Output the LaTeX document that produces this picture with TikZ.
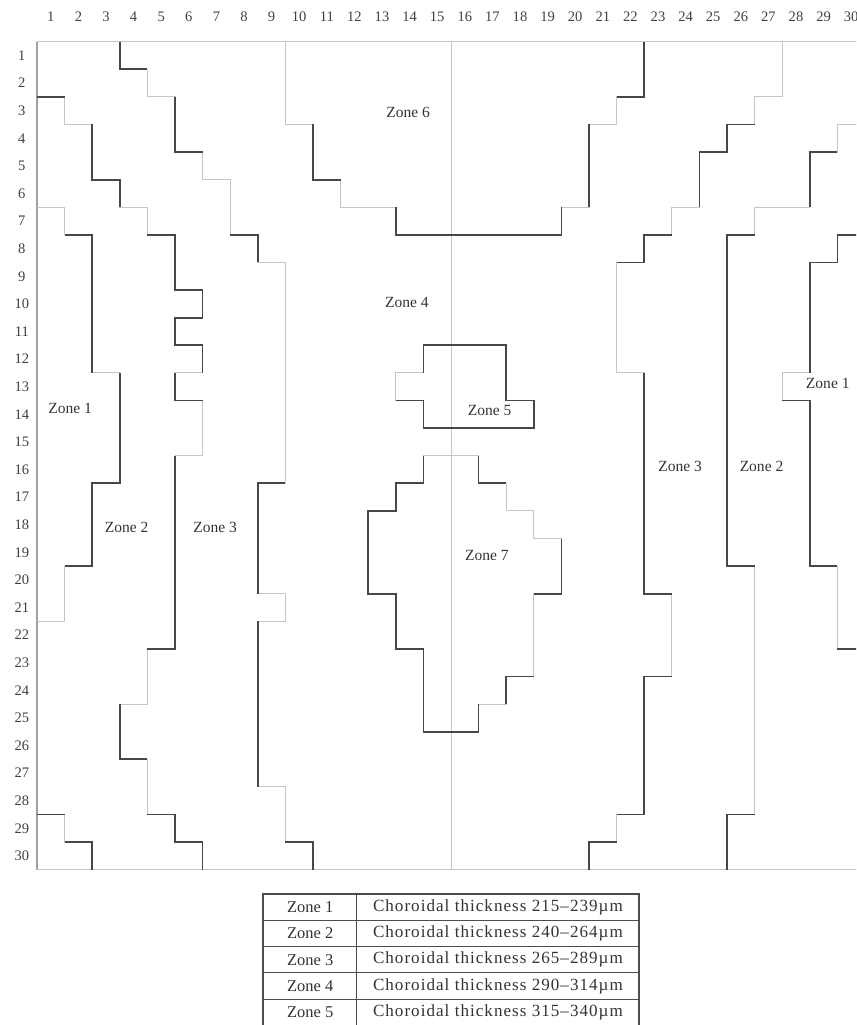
\documentclass[tikz,border=0pt]{standalone}
\usepackage{fontspec}
\setmainfont{Liberation Serif}
\newfontfamily\spacedserif[LetterSpace=6]{Liberation Serif}
\usepackage{tikz}
\usetikzlibrary{positioning}
\definecolor{edgedark}{HTML}{474747}
\definecolor{edgelight}{HTML}{C6C6C6}
\definecolor{axisgray}{HTML}{A0A0A0}

\begin{document}
\begin{tikzpicture}[x=0.5cm, y=-0.5cm, font=\fontsize{8}{9.6}\selectfont]
    \tikzstyle{light edge} = [draw=edgelight, line width=0.5pt]
    \tikzstyle{dark edge} = [draw=edgedark, line width=0.85pt]
    \tikzstyle{zone label} = [inner sep=1pt, text=black!80]
    \tikzstyle{axis label} = [inner sep=0pt, text=black!75, font=\fontsize{7.5}{9}\selectfont]
    \tikzstyle{table line} = [draw=black!70, line width=0.6pt]
    \tikzstyle{table text} = [inner sep=0pt, text=black!80, font=\fontsize{8.5}{10}\selectfont]
    \tikzstyle{thickness text} = [table text, font=\spacedserif\fontsize{8.8}{10}\selectfont]
    \useasboundingbox (-1.341,-1.511) rectangle (29.674,35.627);
    \clip (-1.341,-1.511) rectangle (29.674,35.627);

    \draw[axisgray, line width=0.6pt] (0,0) -- (0,30);
    \draw[edgelight, line width=0.7pt] (0,0) -- (30,0);
    \draw[edgelight, line width=0.7pt] (0,30) -- (30,30);
    \draw[light edge] (15,0) -- (15,30);
    \foreach \i in {1,...,30} {
        \node[axis label] (col\i) at (\i-0.5,-0.9) {\i};
        \node[axis label] (row\i) at (-0.55,\i-0.5) {\i};
    }

    \draw[light edge] (0,6) -- (1,6) -- (1,7) -- (2,7) -- (2,12) -- (3,12) -- (3,16) -- (2,16) -- (2,19) -- (1,19) -- (1,21) -- (0,21);
    \draw[dark edge] (1,7) -- (2,7) -- (2,12) (3,12) -- (3,16) -- (2,16) -- (2,19) -- (1,19);

    \draw[light edge] (0,2) -- (1,2) -- (1,3) -- (2,3) -- (2,5) -- (3,5) -- (3,6) -- (4,6) -- (4,7) -- (5,7) -- (5,9) -- (6,9) -- (6,10) -- (5,10) -- (5,11) -- (6,11) -- (6,12) -- (5,12) -- (5,13) -- (6,13) -- (6,15) -- (5,15) -- (5,22) -- (4,22) -- (4,24) -- (3,24) -- (3,26) -- (4,26) -- (4,28) -- (5,28) -- (5,29) -- (6,29) -- (6,30);
    \draw[dark edge] (0,2) -- (1,2) (2,3) -- (2,5) -- (3,5) -- (3,6) (4,7) -- (5,7) -- (5,9) -- (6,9) -- (6,10) -- (5,10) -- (5,11) -- (6,11) -- (6,12) (5,12) -- (5,13) -- (6,13) (5,15) -- (5,22) -- (4,22) (3,24) -- (3,26) -- (4,26) (4,28) -- (5,28) -- (5,29) -- (6,29) -- (6,30);

    \draw[light edge] (0,28) -- (1,28) -- (1,29) -- (2,29) -- (2,30);
    \draw[dark edge] (0,28) -- (1,28) (1,29) -- (2,29) -- (2,30);

    \draw[light edge] (3,0) -- (3,1) -- (4,1) -- (4,2) -- (5,2) -- (5,4) -- (6,4) -- (6,5) -- (7,5) -- (7,7) -- (8,7) -- (8,8) -- (9,8) -- (9,16) -- (8,16) -- (8,20) -- (9,20) -- (9,21) -- (8,21) -- (8,27) -- (9,27) -- (9,29) -- (10,29) -- (10,30);
    \draw[dark edge] (3,0) -- (3,1) -- (4,1) (5,2) -- (5,4) -- (6,4) (7,7) -- (8,7) -- (8,8) (9,16) -- (8,16) -- (8,20) (8,21) -- (8,27) (9,29) -- (10,29) -- (10,30);

    \draw[light edge] (9,0) -- (9,3) -- (10,3) -- (10,5) -- (11,5) -- (11,6) -- (13,6) -- (13,7) -- (19,7) -- (19,6) -- (20,6) -- (20,3) -- (21,3) -- (21,2) -- (22,2) -- (22,0);
    \draw[dark edge] (10,3) -- (10,5) -- (11,5) (13,6) -- (13,7) -- (19,7) -- (19,6) (20,6) -- (20,3) (21,2) -- (22,2) -- (22,0);

    \draw[light edge] (14,11) -- (17,11) -- (17,13) -- (18,13) -- (18,14) -- (14,14) -- (14,13) -- (13,13) -- (13,12) -- (14,12) -- cycle;
    \draw[dark edge] (14,12) -- (14,11) -- (17,11) -- (17,13) -- (18,13) -- (18,14) -- (14,14) -- (14,13) -- (13,13);

    \draw[light edge] (14,15) -- (16,15) -- (16,16) -- (17,16) -- (17,17) -- (18,17) -- (18,18) -- (19,18) -- (19,20) -- (18,20) -- (18,23) -- (17,23) -- (17,24) -- (16,24) -- (16,25) -- (14,25) -- (14,22) -- (13,22) -- (13,20) -- (12,20) -- (12,17) -- (13,17) -- (13,16) -- (14,16) -- cycle;
    \draw[dark edge] (16,15) -- (16,16) -- (17,16) (19,18) -- (19,20) -- (18,20) (18,23) -- (17,23) -- (17,24) (16,24) -- (16,25) -- (14,25) -- (14,22) -- (13,22) -- (13,20) -- (12,20) -- (12,17) -- (13,17) -- (13,16) -- (14,16) -- (14,15);

    \draw[light edge] (27,0) -- (27,2) -- (26,2) -- (26,3) -- (25,3) -- (25,4) -- (24,4) -- (24,6) -- (23,6) -- (23,7) -- (22,7) -- (22,8) -- (21,8) -- (21,12) -- (22,12) -- (22,20) -- (23,20) -- (23,23) -- (22,23) -- (22,28) -- (21,28) -- (21,29) -- (20,29) -- (20,30);
    \draw[dark edge] (26,3) -- (25,3) -- (25,4) -- (24,4) -- (24,6) (23,7) -- (22,7) -- (22,8) -- (21,8) (22,12) -- (22,20) -- (23,20) (23,23) -- (22,23) -- (22,28) -- (21,28) (21,29) -- (20,29) -- (20,30);

    \draw[light edge] (30,3) -- (29,3) -- (29,4) -- (28,4) -- (28,6) -- (26,6) -- (26,7) -- (25,7) -- (25,19) -- (26,19) -- (26,28) -- (25,28) -- (25,30);
    \draw[dark edge] (29,4) -- (28,4) -- (28,6) (26,7) -- (25,7) -- (25,19) -- (26,19) (26,28) -- (25,28) -- (25,30);

    \draw[light edge] (30,7) -- (29,7) -- (29,8) -- (28,8) -- (28,12) -- (27,12) -- (27,13) -- (28,13) -- (28,19) -- (29,19) -- (29,22) -- (30,22);
    \draw[dark edge] (30,7) -- (29,7) -- (29,8) -- (28,8) -- (28,12) (27,13) -- (28,13) -- (28,19) -- (29,19) (29,22) -- (30,22);

    \node[zone label] (zone6) at (13.45,2.55) {Zone 6};
    \node[zone label] (zone4) at (13.4,9.45) {Zone 4};
    \node[zone label] (zone1L) at (1.2,13.3) {Zone 1};
    \node[zone label] (zone2L) at (3.25,17.6) {Zone 2};
    \node[zone label] (zone3L) at (6.45,17.6) {Zone 3};
    \node[zone label] (zone5) at (16.4,13.35) {Zone 5};
    \node[zone label] (zone7) at (16.3,18.6) {Zone 7};
    \node[zone label] (zone3R) at (23.3,15.4) {Zone 3};
    \node[zone label] (zone2R) at (26.25,15.4) {Zone 2};
    \node[zone label] (zone1R) at (28.65,12.4) {Zone 1};

    \draw[table line] (8.19,30.88) rectangle (21.81,36.6);
    \draw[table line] (11.59,30.88) -- (11.59,36.6);
    \foreach \lo/\hi [count=\i] in {215/239, 240/264, 265/289, 290/314, 315/340} {
        \draw[table line] (8.19,{30.88+\i*0.953}) -- (21.81,{30.88+\i*0.953});
        \node[table text] (zname\i) at (9.9,{30.88+(\i-0.5)*0.953}) {Zone \i};
        \node[thickness text] (zthick\i) at (16.7,{30.88+(\i-0.5)*0.953}) {Choroidal thickness \lo–\hi µm};
    }
\end{tikzpicture}
\end{document}
